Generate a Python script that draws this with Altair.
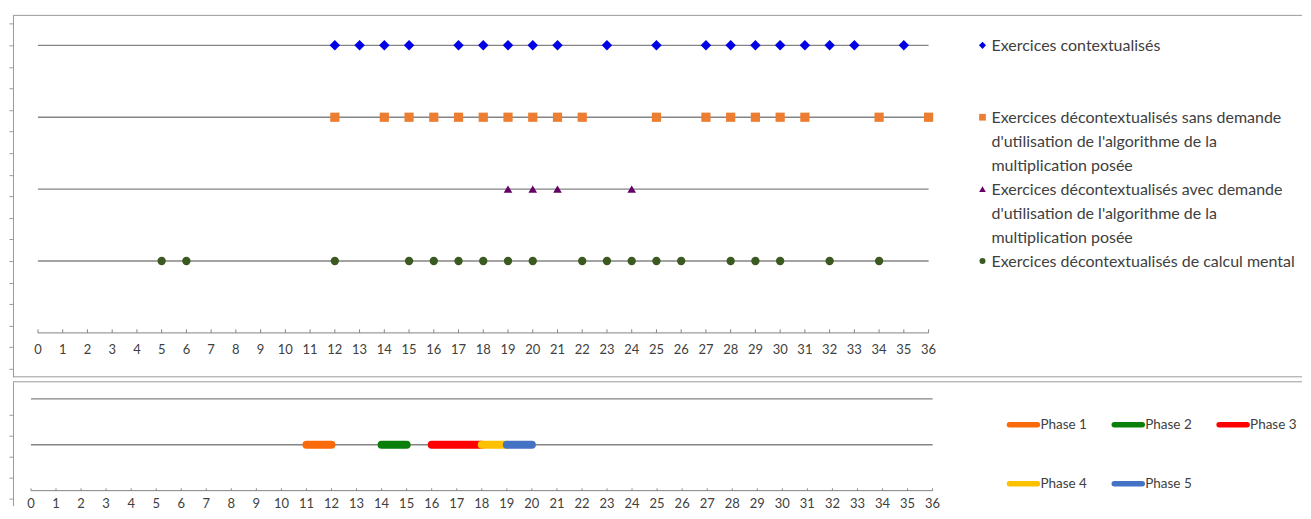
import altair as alt
import pandas as pd

# ---------------- data ----------------
x_tick_labels = [0, 1, 2, 3, 4, 5, 6, 7, 8, 9, 10, 11, 12, 13, 14, 15, 16, 17, 18,
                 19, 20, 21, 22, 23, 24, 25, 26, 27, 28, 29, 30, 31, 32, 33, 34, 35, 36]

series_labels = [
    "Exercices contextualisés",
    "Exercices décontextualisés sans demande\nd'utilisation de l'algorithme de la\nmultiplication posée",
    "Exercices décontextualisés avec demande\nd'utilisation de l'algorithme de la\nmultiplication posée",
    "Exercices décontextualisés de calcul mental",
]
series_rows = [5, 4, 3, 2]
contextualises = [12, 13, 14, 15, 17, 18, 19, 20, 21, 23, 25, 27, 28, 29, 30, 31, 32, 33, 35]
sans_demande = [12, 14, 15, 16, 17, 18, 19, 20, 21, 22, 25, 27, 28, 29, 30, 31, 34, 36]
avec_demande = [19, 20, 21, 24]
calcul_mental = [5, 6, 12, 15, 16, 17, 18, 19, 20, 22, 23, 24, 25, 26, 28, 29, 30, 32, 34]
series_values = [contextualises, sans_demande, avec_demande, calcul_mental]

phase_labels = ["Phase 1", "Phase 2", "Phase 3", "Phase 4", "Phase 5"]
phase_start = [11, 14, 16, 18, 19]
phase_end = [12, 15, 18, 19, 20]
phase_rows = [2, 1]          # empty line, phase line
phase_row = 1

axis_row_top = 1
axis_row_bottom = 0
y_ticks_top = [0.5, 0.8, 1.1, 1.4, 1.7, 2.0, 2.3, 2.6, 2.9, 3.2, 3.5, 3.8, 4.1, 4.4, 4.7, 5.0, 5.3]
y_ticks_bottom = [1.66, 1.2, 0.74, 0.28, -0.18]

# ---------------- style ----------------
FONT = "Lato"
TXT = "#404040"
LINE = "#848484"
FRAME = "#9a9a9a"
SERIES_SHAPES = ["diamond", "square", "triangle-up", "circle"]
SERIES_COLORS = ["#0000e6", "#ed7d31", "#660066", "#3a5a22"]
SERIES_SIZES = [110, 85, 75, 70]
LEGEND_SIZES = [50, 45, 45, 36]
PHASE_COLORS = ["#fa6a0a", "#0a800a", "#ff0000", "#ffc000", "#4472c4"]

W = 1291
H_TOP = 362
H_BOT = 124

xs_top = alt.Scale(domain=[-1.009, 51.094], nice=False, zero=False)
ys_top = alt.Scale(domain=[0.389, 5.417], nice=False, zero=False)
xs_bot = alt.Scale(domain=[-0.7176, 50.75], nice=False, zero=False)
ys_bot = alt.Scale(domain=[-0.326, 2.37], nice=False, zero=False)


def yaxis(vals):
    return alt.Axis(values=vals, labels=False, ticks=True, tickSize=4, tickColor=FRAME,
                    domainColor=FRAME, grid=False, title=None)


def XE(f, sc):
    return alt.X(f, type="quantitative", scale=sc, axis=None)


def YE(f, sc, vals):
    return alt.Y(f, type="quantitative", scale=sc, axis=yaxis(vals))


one = pd.DataFrame({"a": [0]})


def frame_rule(ypix):
    return alt.Chart(one).mark_rule(color=FRAME, strokeWidth=1).encode(
        x=alt.value(0), x2=alt.value(W), y=alt.value(ypix))


def axis_layers(xs, ys, yt, row, dy):
    lo, hi = x_tick_labels[0], x_tick_labels[-1]
    line = alt.Chart(pd.DataFrame({"x": [lo], "x2": [hi], "y": [row]})).mark_rule(
        color=LINE, strokeWidth=1).encode(x=XE("x", xs), x2="x2", y=YE("y", ys, yt))
    tdf = pd.DataFrame({"x": x_tick_labels, "y": [row] * len(x_tick_labels)})
    tdf["y2"] = tdf["y"] + 0.05
    tdf["lab"] = tdf["x"].astype(str)
    ticks = alt.Chart(tdf).mark_rule(color=LINE, strokeWidth=1).encode(
        x=XE("x", xs), y=YE("y", ys, yt), y2="y2")
    labels = alt.Chart(tdf).mark_text(dy=dy, font=FONT, fontSize=13, color=TXT).encode(
        x=XE("x", xs), y=YE("y", ys, yt), text="lab:N")
    return [line, ticks, labels]


# ---------------- top panel ----------------
top_layers = []
base_df = pd.DataFrame({"x": [x_tick_labels[0]] * 4, "x2": [x_tick_labels[-1]] * 4, "y": series_rows})
top_layers.append(alt.Chart(base_df).mark_rule(color=LINE, strokeWidth=1.3).encode(
    x=XE("x", xs_top), x2="x2", y=YE("y", ys_top, y_ticks_top)))
for vals, row, shp, col, sz in zip(series_values, series_rows, SERIES_SHAPES, SERIES_COLORS, SERIES_SIZES):
    df = pd.DataFrame({"x": vals, "y": [row] * len(vals)})
    top_layers.append(alt.Chart(df).mark_point(filled=True, shape=shp, size=sz, color=col, opacity=1).encode(
        x=XE("x", xs_top), y=YE("y", ys_top, y_ticks_top)))
top_layers += axis_layers(xs_top, ys_top, y_ticks_top, axis_row_top, 17)

LEG_MARK_X = 983 - 12
LEG_TEXT_X = 992 - 12
for lab, row, shp, col, sz in zip(series_labels, series_rows, SERIES_SHAPES, SERIES_COLORS, LEGEND_SIZES):
    df = pd.DataFrame({"y": [row], "label": [lab]})
    top_layers.append(alt.Chart(df).mark_point(filled=True, shape=shp, size=sz, color=col, opacity=1).encode(
        x=alt.value(LEG_MARK_X), y=YE("y", ys_top, y_ticks_top)))
    top_layers.append(alt.Chart(df).mark_text(align="left", baseline="top", dy=-7, lineBreak="\n",
                                              lineHeight=24, font=FONT, fontSize=16, color=TXT).encode(
        x=alt.value(LEG_TEXT_X), y=YE("y", ys_top, y_ticks_top), text="label:N"))
top_layers.append(frame_rule(0))
top_layers.append(frame_rule(H_TOP))
top = alt.layer(*top_layers).properties(width=W, height=H_TOP)

# ---------------- bottom panel ----------------
bot_layers = []
bdf = pd.DataFrame({"x": [x_tick_labels[0]] * 2, "x2": [x_tick_labels[-1]] * 2, "y": phase_rows})
bot_layers.append(alt.Chart(bdf).mark_rule(color=LINE, strokeWidth=1.3).encode(
    x=XE("x", xs_bot), x2="x2", y=YE("y", ys_bot, y_ticks_bottom)))
pdf = pd.DataFrame({"phase": phase_labels, "x": phase_start, "x2": phase_end,
                    "y": [phase_row] * len(phase_labels)})
bot_layers.append(alt.Chart(pdf).mark_rule(strokeWidth=8, strokeCap="round").encode(
    x=XE("x", xs_bot), x2="x2", y=YE("y", ys_bot, y_ticks_bottom),
    color=alt.Color("phase:N", scale=alt.Scale(domain=phase_labels, range=PHASE_COLORS), legend=None)))
bot_layers += axis_layers(xs_bot, ys_bot, y_ticks_bottom, axis_row_bottom, 13)

for i, (lab, col) in enumerate(zip(phase_labels, PHASE_COLORS)):
    cx = 1010 - 12 + 105 * (i % 3)
    cy = 43 + 59 * (i // 3)
    d = pd.DataFrame({"label": [lab]})
    bot_layers.append(alt.Chart(d).mark_rule(color=col, strokeWidth=5.5, strokeCap="round").encode(
        x=alt.value(cx), x2=alt.value(cx + 28), y=alt.value(cy)))
    bot_layers.append(alt.Chart(d).mark_text(align="left", baseline="middle", font=FONT, fontSize=13.5,
                                             color=TXT).encode(
        x=alt.value(cx + 31), y=alt.value(cy), text="label:N"))
bot_layers.append(frame_rule(0))
bottom = alt.layer(*bot_layers).properties(width=W, height=H_BOT)

chart = alt.vconcat(top, bottom, spacing=3).properties(
    padding={"left": 0, "top": 6, "right": 0, "bottom": 0},
    background="white",
).configure_view(stroke=None)

chart.save("out.html", embed_options={"renderer": "svg", "actions": False})
